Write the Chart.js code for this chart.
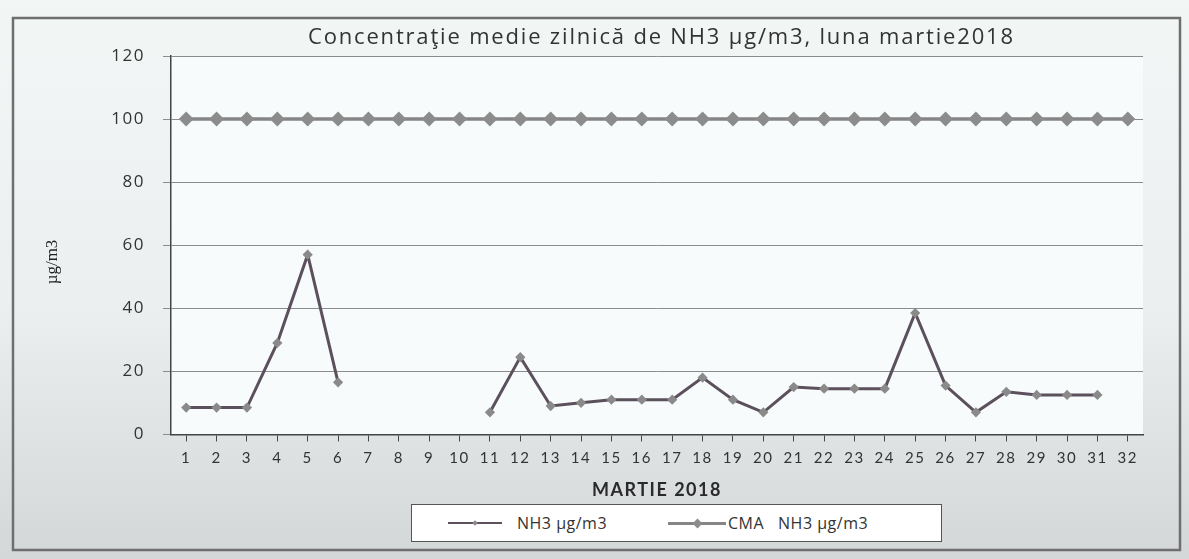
<!DOCTYPE html>
<html>
<head>
<meta charset="utf-8">
<script src="https://cdn.jsdelivr.net/npm/chart.js@4"></script>
<style>
  body { margin: 0; background: #e6e9e8; }
  #wrap { position: relative; width: 1189px; height: 559px; }
  #legend {
    position: absolute; left: 411px; top: 504px; width: 529px; height: 36px;
    background: #fff; border: 1px solid #555;
    font-family: 'Open Sans', sans-serif; font-size: 16px; color: #333; letter-spacing: 0.5px;
  }
  .item { position: absolute; top: 0; height: 36px; line-height: 36px; white-space: pre; }
  .sample { position: absolute; top: 18px; }
  .mark { position: absolute; transform: rotate(45deg); }
</style>
</head>
<body>
<div id="wrap">
  <canvas id="nh3Chart" width="1189" height="559"></canvas>
  <div id="legend"></div>
</div>
<script>
// Date
const days = Array.from({ length: 32 }, (_, i) => String(i + 1));
const nh3 = [8.5, 8.5, 8.5, 29, 57, 16.5, null, null, null, null,
             7, 24.5, 9, 10, 11, 11, 11, 18, 11, 7,
             15, 14.5, 14.5, 14.5, 38.5, 15.5, 7, 13.5, 12.5, 12.5, 12.5, null];
const cma = [100, 100, 100, 100, 100, 100, 100, 100, 100, 100,
             100, 100, 100, 100, 100, 100, 100, 100, 100, 100,
             100, 100, 100, 100, 100, 100, 100, 100, 100, 100, 100, 100];
const yTicks = [0, 20, 40, 60, 80, 100, 120];
const seriesNames = ['NH3 µg/m3', 'CMA   NH3 µg/m3'];
const titleText = 'Concentraţie medie zilnică de NH3 µg/m3, luna martie2018';
const yTitle = 'µg/m3';

const colNH3 = '#5b505b';
const colCMA = '#858585';

const spacingPlugin = {
    id: 'spacingPlugin',
    beforeLayout(chart) { chart.ctx.letterSpacing = '1.5px'; },
    beforeDraw(chart) {
        const ctx = chart.ctx;
        const w = chart.width, h = chart.height;
        ctx.letterSpacing = '1.5px';
        const g = ctx.createLinearGradient(0, 0, 0, h);
        g.addColorStop(0, '#f2f6f5');
        g.addColorStop(0.55, '#eceff0');
        g.addColorStop(1, '#d4d7d7');
        ctx.save();
        ctx.fillStyle = g;
        ctx.fillRect(0, 0, w, h);
        const a = chart.chartArea;
        ctx.fillStyle = '#f7fbfc';
        ctx.fillRect(a.left, a.top, a.right - a.left, a.bottom - a.top);
        ctx.strokeStyle = '#6f6f6f';
        ctx.lineWidth = 2.5;
        ctx.strokeRect(13, 18, 1167, 532);
        ctx.restore();
    },
    afterDraw(chart) {
        const ctx = chart.ctx;
        ctx.save();
        // titlu
        ctx.font = '22px "Open Sans"';
        ctx.letterSpacing = '0px';
        const w0 = ctx.measureText(titleText).width;
        ctx.letterSpacing = Math.max(0, (707 - w0) / titleText.length).toFixed(2) + 'px';
        ctx.fillStyle = '#333';
        ctx.textAlign = 'left';
        ctx.textBaseline = 'middle';
        ctx.fillText(titleText, 308, 38);
        // titlu axa y
        ctx.letterSpacing = '0px';
        ctx.font = '17px "Liberation Serif"';
        ctx.translate(53, 262);
        ctx.rotate(-Math.PI / 2);
        ctx.textAlign = 'center';
        ctx.fillStyle = '#222';
        ctx.fillText(yTitle, 0, 0);
        ctx.restore();
    }
};

function buildLegend() {
    const el = document.getElementById('legend');
    const items = [
        { x: 36, w: 54, lw: 2, col: colNH3, mk: 4, mkCol: '#8a8a8a', tx: 105 },
        { x: 256, w: 58, lw: 3, col: colCMA, mk: 7, mkCol: '#8c8c8c', tx: 316 }
    ];
    items.forEach((it, i) => {
        const s = document.createElement('div');
        s.className = 'sample';
        s.style.left = it.x + 'px';
        s.style.width = it.w + 'px';
        s.style.top = (18 - it.lw / 2) + 'px';
        s.style.height = it.lw + 'px';
        s.style.background = it.col;
        el.appendChild(s);
        const m = document.createElement('div');
        m.className = 'mark';
        m.style.width = it.mk + 'px';
        m.style.height = it.mk + 'px';
        m.style.left = (it.x + it.w / 2 - it.mk / 2) + 'px';
        m.style.top = (18 - it.mk / 2) + 'px';
        m.style.background = it.mkCol;
        el.appendChild(m);
        const t = document.createElement('div');
        t.className = 'item';
        t.style.left = it.tx + 'px';
        t.textContent = seriesNames[i];
        el.appendChild(t);
    });
}
buildLegend();

const ctx = document.getElementById('nh3Chart');
new Chart(ctx, {
    type: 'line',
    data: {
        labels: days,
        datasets: [{
            label: seriesNames[0],
            data: nh3,
            borderColor: colNH3,
            backgroundColor: '#8a8a8a',
            borderWidth: 3,
            pointStyle: 'rectRot',
            pointRadius: 3,
            pointBorderColor: '#8a8a8a',
            tension: 0,
            spanGaps: false
        }, {
            label: seriesNames[1],
            data: cma,
            borderColor: colCMA,
            backgroundColor: '#8c8c8c',
            borderWidth: 3.5,
            pointStyle: 'rectRot',
            pointRadius: 5,
            pointBorderColor: '#8c8c8c',
            tension: 0
        }]
    },
    options: {
        responsive: false,
        animation: false,
        layout: { padding: { left: 20, right: 46, top: 56, bottom: 54 } },
        plugins: {
            title: { display: false },
            legend: { display: false },
            tooltip: { enabled: false }
        },
        scales: {
            x: {
                offset: true,
                grid: { display: true, drawOnChartArea: false, color: '#444', tickLength: 7 },
                border: { color: '#444', width: 1.5 },
                ticks: { color: '#333', font: { family: 'Lato', size: 15 }, padding: 8, maxRotation: 0, autoSkip: false },
                title: {
                    display: true,
                    text: 'MARTIE 2018',
                    color: '#2a2a2a',
                    font: { family: 'Lato', size: 18, weight: 'bold' },
                    padding: { top: 4, bottom: 4 }
                }
            },
            y: {
                min: 0,
                max: 120,
                afterBuildTicks(axis) { axis.ticks = yTicks.map(v => ({ value: v })); },
                afterFit(axis) { axis.width = 151; },
                grid: { color: '#8c8c8c', lineWidth: 1, tickLength: 8 },
                border: { color: '#444', width: 1.5 },
                ticks: { color: '#333', font: { family: 'Open Sans', size: 17 }, padding: 18 }
            }
        }
    },
    plugins: [spacingPlugin]
});
</script>
</body>
</html>
